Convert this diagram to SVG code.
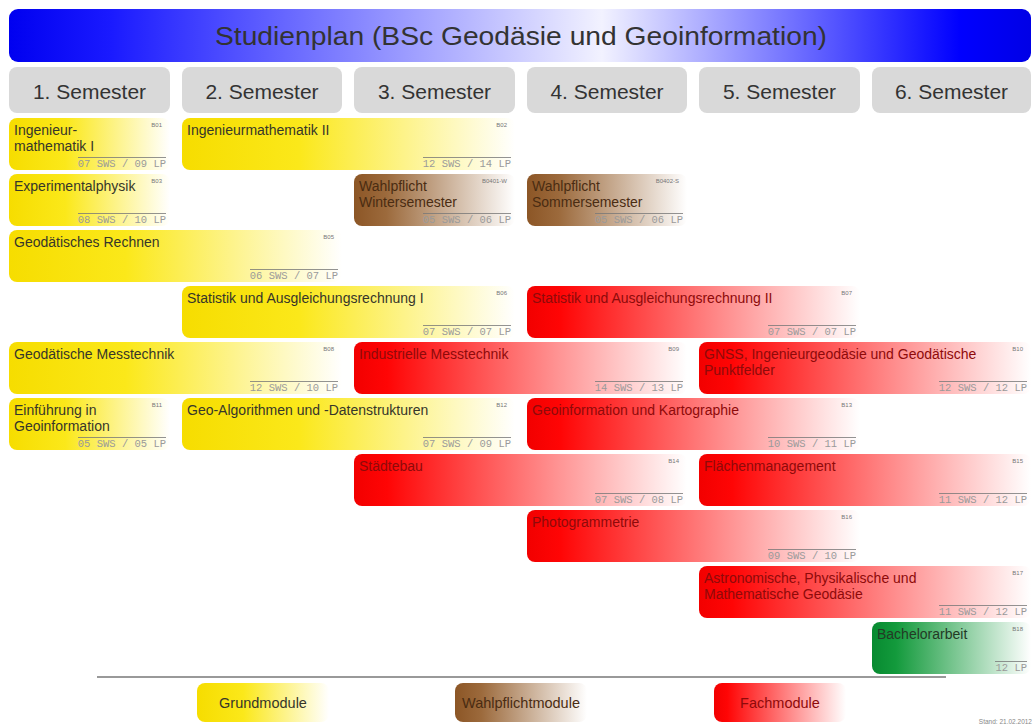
<svg xmlns="http://www.w3.org/2000/svg" width="1034" height="728" viewBox="0 0 1034 728">
<defs>
<linearGradient id="gtitle" x1="0" y1="0" x2="1" y2="0">
<stop offset="0" stop-color="#0000f0"/><stop offset="0.1" stop-color="#1a1aff"/><stop offset="0.58" stop-color="#f2f2ff"/><stop offset="0.93" stop-color="#0000ff"/><stop offset="1" stop-color="#0000e6"/>
</linearGradient>
<linearGradient id="gy" x1="0" y1="0" x2="1" y2="0">
<stop offset="0" stop-color="#f6dd00"/><stop offset="0.35" stop-color="#fbe81a"/><stop offset="1" stop-color="#ffffff"/>
</linearGradient>
<linearGradient id="gr" x1="0" y1="0" x2="1" y2="0">
<stop offset="0" stop-color="#f20000"/><stop offset="0.1" stop-color="#ff0505"/><stop offset="1" stop-color="#ffffff"/>
</linearGradient>
<linearGradient id="gb" x1="0" y1="0" x2="1" y2="0">
<stop offset="0" stop-color="#8c5626"/><stop offset="0.2" stop-color="#9c6a3c"/><stop offset="1" stop-color="#ffffff"/>
</linearGradient>
<linearGradient id="gg" x1="0" y1="0" x2="1" y2="0">
<stop offset="0" stop-color="#078a30"/><stop offset="0.15" stop-color="#139a3c"/><stop offset="1" stop-color="#ffffff"/>
</linearGradient>
</defs>
<style>
.sem{fill:#d9d9d9}
.semt{font-family:"Liberation Sans",Arial,sans-serif;font-size:21px;fill:#333;text-anchor:middle}
.t{font-family:"Liberation Sans",Arial,sans-serif;font-size:14px}
.ty{fill:#36362a}
.tr{fill:#8e0a0a}
.tb{fill:#4a2c12}
.tg{fill:#233a25}
.code{font-family:"Liberation Sans",Arial,sans-serif;font-size:6px;fill:#777;text-anchor:end}
.sws{font-family:"Liberation Mono","Courier New",monospace;font-size:10.5px;fill:#9a9a9a;text-anchor:end}
.ol{stroke:#777;stroke-width:0.8}
.leg{font-family:"Liberation Sans",Arial,sans-serif;font-size:14.5px;text-anchor:middle}
</style>
<rect width="1034" height="728" fill="#ffffff"/>

<g id="title">
<rect x="9" y="9" width="1022" height="53" rx="9" fill="url(#gtitle)"/>
<text x="521" y="45" font-family="'Liberation Sans',Arial,sans-serif" font-size="25" fill="#333" text-anchor="middle" textLength="612" lengthAdjust="spacingAndGlyphs">Studienplan (BSc Geodäsie und Geoinformation)</text>
</g>

<g id="semesters">
<g id="sem1"><rect class="sem" x="9" y="67" width="161" height="46" rx="8"/><text class="semt" x="89.5" y="98.5">1. Semester</text></g>
<g id="sem2"><rect class="sem" x="182" y="67" width="160" height="46" rx="8"/><text class="semt" x="262" y="98.5">2. Semester</text></g>
<g id="sem3"><rect class="sem" x="354" y="67" width="161" height="46" rx="8"/><text class="semt" x="434.5" y="98.5">3. Semester</text></g>
<g id="sem4"><rect class="sem" x="527" y="67" width="160" height="46" rx="8"/><text class="semt" x="607" y="98.5">4. Semester</text></g>
<g id="sem5"><rect class="sem" x="699" y="67" width="161" height="46" rx="8"/><text class="semt" x="779.5" y="98.5">5. Semester</text></g>
<g id="sem6"><rect class="sem" x="872" y="67" width="159" height="46" rx="8"/><text class="semt" x="951.5" y="98.5">6. Semester</text></g>
</g>

<g id="connectors"/>

<g id="B01"><rect x="9" y="118" width="161" height="52" rx="8" fill="url(#gy)"/>
<text class="t ty" x="14" y="135">Ingenieur-</text><text class="t ty" x="14" y="151">mathematik I</text>
<text class="code" x="162" y="127">B01</text><line class="ol" x1="78" y1="157.5" x2="166" y2="157.5"/><text class="sws" x="166" y="166.5">07 SWS / 09 LP</text></g>

<g id="B02"><rect x="182" y="118" width="333" height="52" rx="8" fill="url(#gy)"/>
<text class="t ty" x="187" y="135">Ingenieurmathematik II</text>
<text class="code" x="507" y="127">B02</text><line class="ol" x1="423" y1="157.5" x2="511" y2="157.5"/><text class="sws" x="511" y="166.5">12 SWS / 14 LP</text></g>

<g id="B03"><rect x="9" y="174" width="161" height="52" rx="8" fill="url(#gy)"/>
<text class="t ty" x="14" y="191">Experimentalphysik</text>
<text class="code" x="162" y="183">B03</text><line class="ol" x1="78" y1="213.5" x2="166" y2="213.5"/><text class="sws" x="166" y="222.5">08 SWS / 10 LP</text></g>

<g id="B0401-W"><rect x="354" y="174" width="161" height="52" rx="8" fill="url(#gb)"/>
<text class="t tb" x="359" y="191">Wahlpflicht</text><text class="t tb" x="359" y="207">Wintersemester</text>
<text class="code" x="507" y="183">B0401-W</text><line class="ol" x1="423" y1="213.5" x2="511" y2="213.5"/><text class="sws" x="511" y="222.5">05 SWS / 06 LP</text></g>

<g id="B0402-S"><rect x="527" y="174" width="160" height="52" rx="8" fill="url(#gb)"/>
<text class="t tb" x="532" y="191">Wahlpflicht</text><text class="t tb" x="532" y="207">Sommersemester</text>
<text class="code" x="679" y="183">B0402-S</text><line class="ol" x1="595" y1="213.5" x2="683" y2="213.5"/><text class="sws" x="683" y="222.5">05 SWS / 06 LP</text></g>

<g id="B05"><rect x="9" y="230" width="333" height="52" rx="8" fill="url(#gy)"/>
<text class="t ty" x="14" y="247">Geodätisches Rechnen</text>
<text class="code" x="334" y="239">B05</text><line class="ol" x1="250" y1="269.5" x2="338" y2="269.5"/><text class="sws" x="338" y="278.5">06 SWS / 07 LP</text></g>

<g id="B06"><rect x="182" y="286" width="333" height="52" rx="8" fill="url(#gy)"/>
<text class="t ty" x="187" y="303">Statistik und Ausgleichungsrechnung I</text>
<text class="code" x="507" y="295">B06</text><line class="ol" x1="423" y1="325.5" x2="511" y2="325.5"/><text class="sws" x="511" y="334.5">07 SWS / 07 LP</text></g>

<g id="B07"><rect x="527" y="286" width="333" height="52" rx="8" fill="url(#gr)"/>
<text class="t tr" x="532" y="303">Statistik und Ausgleichungsrechnung II</text>
<text class="code" x="852" y="295">B07</text><line class="ol" x1="768" y1="325.5" x2="856" y2="325.5"/><text class="sws" x="856" y="334.5">07 SWS / 07 LP</text></g>

<g id="B08"><rect x="9" y="342" width="333" height="52" rx="8" fill="url(#gy)"/>
<text class="t ty" x="14" y="359">Geodätische Messtechnik</text>
<text class="code" x="334" y="351">B08</text><line class="ol" x1="250" y1="381.5" x2="338" y2="381.5"/><text class="sws" x="338" y="390.5">12 SWS / 10 LP</text></g>

<g id="B09"><rect x="354" y="342" width="333" height="52" rx="8" fill="url(#gr)"/>
<text class="t tr" x="359" y="359">Industrielle Messtechnik</text>
<text class="code" x="679" y="351">B09</text><line class="ol" x1="595" y1="381.5" x2="683" y2="381.5"/><text class="sws" x="683" y="390.5">14 SWS / 13 LP</text></g>

<g id="B10"><rect x="699" y="342" width="332" height="52" rx="8" fill="url(#gr)"/>
<text class="t tr" x="704" y="359">GNSS, Ingenieurgeodäsie und Geodätische</text><text class="t tr" x="704" y="375">Punktfelder</text>
<text class="code" x="1023" y="351">B10</text><line class="ol" x1="939" y1="381.5" x2="1027" y2="381.5"/><text class="sws" x="1027" y="390.5">12 SWS / 12 LP</text></g>

<g id="B11"><rect x="9" y="398" width="161" height="52" rx="8" fill="url(#gy)"/>
<text class="t ty" x="14" y="415">Einführung in</text><text class="t ty" x="14" y="431">Geoinformation</text>
<text class="code" x="162" y="407">B11</text><line class="ol" x1="78" y1="437.5" x2="166" y2="437.5"/><text class="sws" x="166" y="446.5">05 SWS / 05 LP</text></g>

<g id="B12"><rect x="182" y="398" width="333" height="52" rx="8" fill="url(#gy)"/>
<text class="t ty" x="187" y="415">Geo-Algorithmen und -Datenstrukturen</text>
<text class="code" x="507" y="407">B12</text><line class="ol" x1="423" y1="437.5" x2="511" y2="437.5"/><text class="sws" x="511" y="446.5">07 SWS / 09 LP</text></g>

<g id="B13"><rect x="527" y="398" width="333" height="52" rx="8" fill="url(#gr)"/>
<text class="t tr" x="532" y="415">Geoinformation und Kartographie</text>
<text class="code" x="852" y="407">B13</text><line class="ol" x1="768" y1="437.5" x2="856" y2="437.5"/><text class="sws" x="856" y="446.5">10 SWS / 11 LP</text></g>

<g id="B14"><rect x="354" y="454" width="333" height="52" rx="8" fill="url(#gr)"/>
<text class="t tr" x="359" y="471">Städtebau</text>
<text class="code" x="679" y="463">B14</text><line class="ol" x1="595" y1="493.5" x2="683" y2="493.5"/><text class="sws" x="683" y="502.5">07 SWS / 08 LP</text></g>

<g id="B15"><rect x="699" y="454" width="332" height="52" rx="8" fill="url(#gr)"/>
<text class="t tr" x="704" y="471">Flächenmanagement</text>
<text class="code" x="1023" y="463">B15</text><line class="ol" x1="939" y1="493.5" x2="1027" y2="493.5"/><text class="sws" x="1027" y="502.5">11 SWS / 12 LP</text></g>

<g id="B16"><rect x="527" y="510" width="333" height="52" rx="8" fill="url(#gr)"/>
<text class="t tr" x="532" y="527">Photogrammetrie</text>
<text class="code" x="852" y="519">B16</text><line class="ol" x1="768" y1="549.5" x2="856" y2="549.5"/><text class="sws" x="856" y="558.5">09 SWS / 10 LP</text></g>

<g id="B17"><rect x="699" y="566" width="332" height="52" rx="8" fill="url(#gr)"/>
<text class="t tr" x="704" y="583">Astronomische, Physikalische und</text><text class="t tr" x="704" y="599">Mathematische Geodäsie</text>
<text class="code" x="1023" y="575">B17</text><line class="ol" x1="939" y1="605.5" x2="1027" y2="605.5"/><text class="sws" x="1027" y="614.5">11 SWS / 12 LP</text></g>

<g id="B18"><rect x="872" y="622" width="159" height="52" rx="8" fill="url(#gg)"/>
<text class="t tg" x="877" y="639">Bachelorarbeit</text>
<text class="code" x="1023" y="631">B18</text><line class="ol" x1="995" y1="661.5" x2="1027" y2="661.5"/><text class="sws" x="1027" y="670.5">12 LP</text></g>

<g id="legend">
<line x1="97" y1="677" x2="946" y2="677" stroke="#999" stroke-width="2"/>
<g id="leg-grund"><rect x="197" y="683" width="132" height="39" rx="8" fill="url(#gy)"/><text class="leg ty" x="263" y="708">Grundmodule</text></g>
<g id="leg-wahl"><rect x="455" y="683" width="132" height="39" rx="8" fill="url(#gb)"/><text class="leg tb" x="521" y="708">Wahlpflichtmodule</text></g>
<g id="leg-fach"><rect x="714" y="683" width="132" height="39" rx="8" fill="url(#gr)"/><text class="leg tr" x="780" y="708">Fachmodule</text></g>
<text x="1032" y="724" font-family="'Liberation Sans',Arial,sans-serif" font-size="6.5" fill="#888" text-anchor="end">Stand: 21.02.2012</text>
</g>
</svg>
